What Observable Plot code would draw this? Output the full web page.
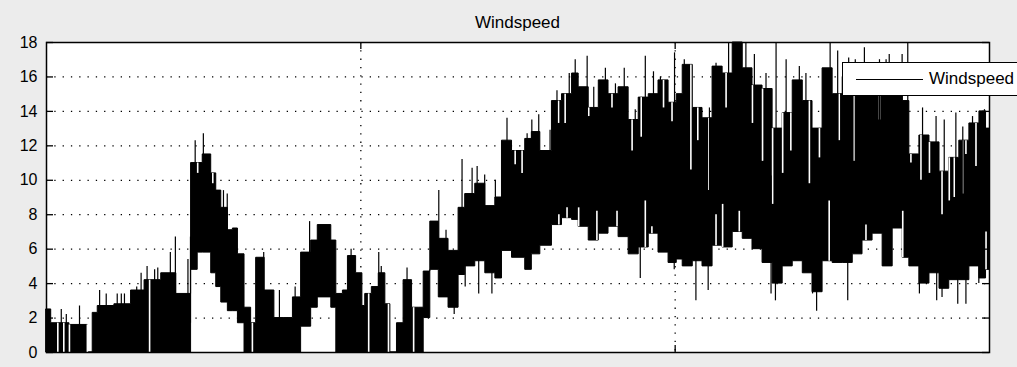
<!DOCTYPE html>
<html><head><meta charset="utf-8">
<script src="https://cdn.jsdelivr.net/npm/d3@7"></script>
<script src="https://cdn.jsdelivr.net/npm/@observablehq/plot@0.6"></script>
<style>
html,body{margin:0;padding:0;background:#ececec;overflow:hidden;width:1017px;height:367px;}
#wrap{position:relative;width:1017px;height:367px;}
#title{position:absolute;left:46px;width:943px;top:13px;text-align:center;font:17px "Liberation Sans",Arial,sans-serif;color:#000;}
#legend{position:absolute;left:842px;top:62px;width:175px;height:34px;background:#fff;border:1px solid #000;border-right:none;box-sizing:border-box;}
#legline{position:absolute;left:13px;top:16px;width:67px;height:0;border-top:1px solid #000;}
#legtext{position:absolute;left:86px;top:6px;font:17px "Liberation Sans",Arial,sans-serif;color:#000;white-space:nowrap;}
svg{position:absolute;left:0;top:0;}
</style>
</head><body>
<div id="wrap">
<div id="chart"></div>
<div id="title">Windspeed</div>
<div id="legend"><div id="legline"></div><div id="legtext">Windspeed</div></div>
</div>
<script>
// Envelope of the dense windspeed trace (bin start, upper edge, lower edge)
const windT = [0,1.5,3.6,7.3,13.1,14.7,16.3,21.6,26.9,31.2,36.5,41.3,46.0,48.1,49.7,52.4,54.0,55.6,57.7,59.3,60.9,63.0,65.1,66.7,69.4,72.5,75.7,78.4,81.0,84.2,86.3,90.6,92.2,94.3,95.9,98.5,
  100.5,101.4,103.5,105.7,107.8,109.4,111.5,113.6,116.3,118.4,120.0,122.1,124.8,127.9,131.1,133.2,136.4,139.6,142.8,144.9,148.1,152.3,154.4,157.1,160.8,164.0,167.2,169.3,172.5,175.7,178.8,182.0,185.2,188.4,191.6,194.7,197.9,
  200.5,202.4,205.6,208.7,211.9,215.1,218.3,221.5,224.6,227.8,231.0,234.2,237.4,240.6,243.7,246.9,250.1,253.3,256.5,259.6,262.8,266.0,269.2,272.4,274.5,277.7,280.9,284.1,287.2,290.4,293.6,296.8,298.9,300];
const windHi = [2.5,1.7,1.7,1.6,0,2.3,2.7,2.8,3.6,4.2,4.6,3.4,11.0,11.0,11.5,10.4,9.4,8.4,7.1,7.2,5.7,2.6,1.7,5.5,3.6,2.0,2.0,3.2,5.8,6.5,7.4,6.5,3.4,3.6,5.6,4.6,
  2.7,3.4,3.8,4.6,2.8,0,1.7,4.2,2.6,2.6,4.7,7.6,6.6,5.9,8.4,9.2,9.8,8.5,9.0,12.3,11.7,12.4,12.8,11.7,14.6,15.0,16.2,15.4,14.2,15.8,15.0,15.4,13.5,14.8,15.0,15.8,14.5,
  15.0,16.7,14.2,13.6,16.6,16.2,18,16.5,15.5,15.3,13.0,13.9,15.8,14.6,13.0,16.5,15.0,16.0,15.0,15.5,15.0,15.5,16.0,14.6,11.5,12.6,12.2,10.5,11.3,12.3,13.3,14.0,13.0,13.0];
const windLo = [0,0,0,0,0,0,0,0,0,0,0,0,4.8,5.8,5.8,4.6,3.8,2.9,2.4,2.4,1.7,0,0,0,0,0,0,0,1.5,2.6,3.2,2.6,0,0,0,0,
  0,0,0,0,0,0,0,0,0,0,2.0,4.8,3.2,2.6,4.5,5.0,5.3,4.6,4.3,5.9,5.5,4.8,5.7,6.2,7.4,7.8,7.7,7.3,6.5,6.9,7.3,6.7,5.7,6.1,6.9,5.8,5.2,
  5.4,5.0,5.3,5.0,6.2,6.1,7.0,6.6,6.0,5.2,4.0,5.0,5.3,4.6,3.5,5.3,5.2,5.2,5.7,6.5,6.9,5.0,7.2,5.5,5.0,4.0,4.6,3.7,4.2,4.2,5.0,4.3,4.8,4.8];

// Single-sample peaks rising above the envelope
const peakT = [4.7,6.3,10.5,16.9,19.0,22.5,23.8,24.8,28.7,30.1,32.0,34.4,35.4,39.4,41.0,45.0,45.8,47.3,49.9,56.3,57.5,60.3,69.1,74.1,79.1,83.7,96.9,
  105.7,106.5,114.7,124.8,127.1,132.2,135.4,137.0,139.4,142.8,146.5,152.9,154.4,156.6,160.2,162.4,166.3,168.2,172.0,174.1,177.8,181.0,183.8,187.3,190.5,193.1,195.3,199.8,
  202.9,210.9,213.0,217.0,219.3,220.4,222.5,225.2,228.9,232.1,235.3,239.5,241.6,249.3,251.7,255.2,257.3,260.2,265.0,267.1,268.1,272.2,274.0,278.7,283.0,285.6,289.3,291.5,294.6,298.4];
const peakV = [2.5,2.2,2.7,3.6,3.4,3.4,3.4,3.4,3.8,4.6,5.0,4.8,4.9,5.8,6.7,5.4,6.7,12.3,12.7,9.4,9.2,7.2,5.8,3.6,3.8,7.6,6.0,
  5.8,5.0,4.9,9.4,7.1,11.2,10.7,10.8,10.3,10.0,13.6,12.7,13.5,13.8,12.9,15.2,16.2,17.0,17.2,15.4,16.5,15.6,16.5,14.1,17.2,16.3,16.0,17.4,
  17.0,14.2,16.8,18,18,18,18,17.3,16.2,18,17.0,16.6,16.2,18,17.5,17.1,17.0,17.7,17.0,17.0,17.3,17.3,18,14.2,13.7,13.5,13.9,13.1,13.7,14.1];

// Single-sample dips falling below the envelope
const dipT = [129.7,133.2,137.5,141.7,188.9,199.7,206.6,210.5,230.5,231.9,243.7,245.0,254.9,277.7,283.2,284.9,289.9,292.5,296.6];
const dipV = [2.2,3.8,3.4,3.4,4.3,4.8,3.0,3.6,3.4,3.0,3.4,2.4,3.0,3.4,3.0,3.2,2.8,2.8,4.0];

// Deep lows of the upper edge (white notches cut down from the top of the trace)
const notchT = [48.1,52.9,149.1,151.3,158.7,162.9,165.0,172.5,179.9,186.3,189.2,196.3,199.0,
  205.0,207.2,210.7,216.2,224.6,227.8,231.0,234.2,236.8,242.7,245.9,252.2,257.0,265.0,275.0,278.2,280.9,284.9,287.2,288.8,291.5,292.5,295.7];
const notchV = [10.4,9.8,10.9,10.4,11.7,13.3,13.3,13.7,14.2,11.7,12.5,14.2,13.4,
  10.6,12.3,9.4,14.2,13.3,11.1,8.6,10.4,11.7,9.8,11.3,12.3,11.1,13.5,11.0,10.0,10.4,8.0,8.8,9.0,9.2,11.5,10.8];

// High points of the lower edge (white notches rising from the bottom of the trace)
const riseT = [163.0,165.6,169.3,175.1,181.5,190.5,192.6,213.0,215.1,220.4,249.0,260.7,272.4,298.9];
const riseV = [8.0,8.4,8.4,8.2,8.2,8.8,7.3,8.0,8.6,8.2,8.8,7.4,8.2,7.0];

// Calm samples where the trace drops to zero in the low-wind stretches
const calmT = [3.6,5.5,7.3,13.0,32.8,65.5,102.5,108.8,116.8];

const yTicks = [0,2,4,6,8,10,12,14,16,18];
const xGrid = [100,200];

function binAt(t){ let k=0; for(let i=0;i<windT.length;i++){ if(windT[i]<=t) k=i; } return k; }
const env = windT.map((t,i)=>({t, hi: windHi[i], lo: windLo[i]}));
const mid = t => { const k=binAt(t); return (windHi[k]+windLo[k])/2; };
const peaks = peakT.map((t,i)=>({t, v: peakV[i], b: mid(t)}));
const dips = dipT.map((t,i)=>({t, v: dipV[i], b: mid(t)}));
const notches = notchT.map((t,i)=>({t, v: notchV[i], b: windHi[binAt(t)]}));
const rises = riseT.map((t,i)=>({t, v: riseV[i], b: windLo[binAt(t)]}));
const calms = calmT.map(t=>({t, b: windHi[binAt(t)]}));

const W=1017,H=367,ML=46,MR=28,MT=42,MB=15;
const innerW=W-ML-MR, innerH=H-MT-MB;
const dots = {stroke:"black", strokeWidth:1.3, strokeDasharray:"1.3 7"};

const chart = Plot.plot({
  width: W, height: H,
  marginLeft: ML, marginRight: MR, marginTop: MT, marginBottom: MB,
  style: {background: "transparent", fontFamily: "'Liberation Sans', Arial, sans-serif", fontSize: "16px", color: "black"},
  x: {domain: [0,300], axis: null},
  y: {domain: [0,18], ticks: yTicks, tickSize: 0, tickPadding: 9, label: null},
  marks: [
    Plot.frame({fill: "white", stroke: null}),
    Plot.ruleY(yTicks.filter(d=>d>0&&d<18), dots),
    Plot.ruleX(xGrid, dots),
    Plot.areaY(env, {x: "t", y1: "lo", y2: "hi", curve: "step-after", fill: "black", stroke: "black", strokeWidth: 1}),
    Plot.ruleX(notches, {x: "t", y1: "b", y2: "v", stroke: "white", strokeWidth: 1.6}),
    Plot.ruleX(rises, {x: "t", y1: "b", y2: "v", stroke: "white", strokeWidth: 1.6}),
    Plot.ruleX(calms, {x: "t", y1: 0, y2: "b", stroke: "white", strokeWidth: 1.6}),
    Plot.ruleX(peaks, {x: "t", y1: "b", y2: "v", stroke: "black", strokeWidth: 1.2}),
    Plot.ruleX(dips, {x: "t", y1: "b", y2: "v", stroke: "black", strokeWidth: 1.2}),
    Plot.tickY(yTicks, {y: d=>d, insetRight: innerW-7, stroke: "black", strokeWidth: 1.3}),
    Plot.tickY(yTicks, {y: d=>d, insetLeft: innerW-7, stroke: "black", strokeWidth: 1.3}),
    Plot.tickX(xGrid, {x: d=>d, insetBottom: innerH-7, stroke: "black", strokeWidth: 1.3}),
    Plot.tickX(xGrid, {x: d=>d, insetTop: innerH-7, stroke: "black", strokeWidth: 1.3}),
    Plot.frame({stroke: "black", strokeWidth: 1.5})
  ]
});
document.getElementById("chart").appendChild(chart);
</script>
</body></html>
